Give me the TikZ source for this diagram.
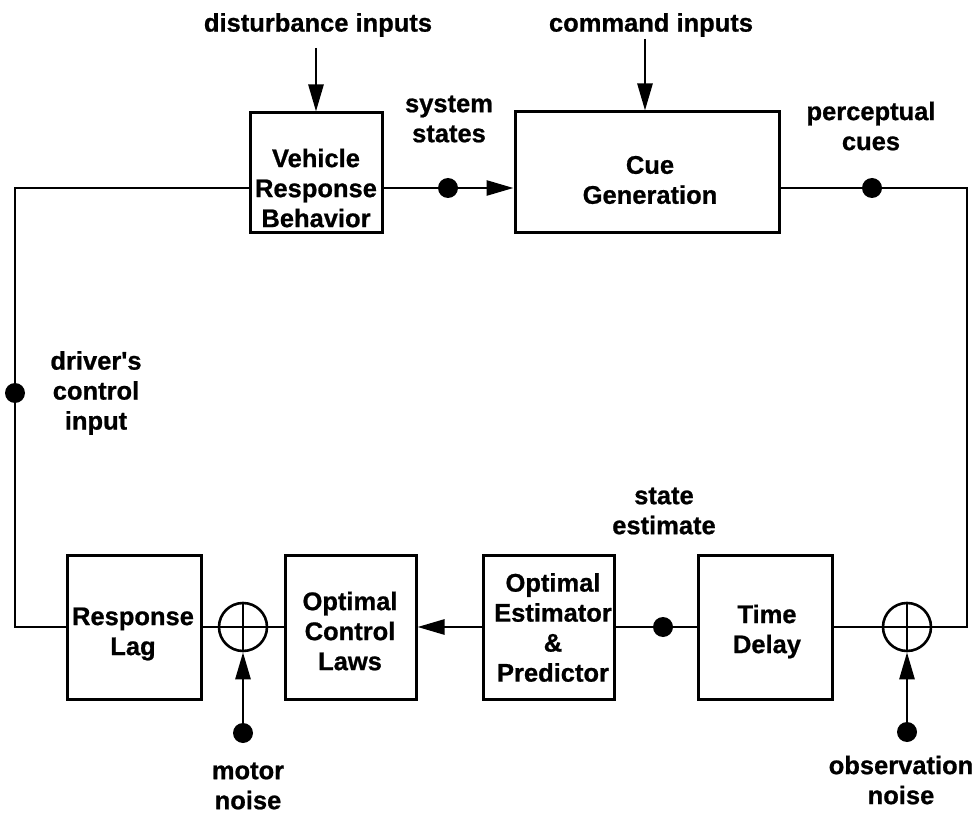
\documentclass[tikz,border=0pt]{standalone}
\usepackage{fontspec}
\newfontfamily\diagfont{Liberation Sans}[BoldFeatures={FakeBold=0.8}]
\usetikzlibrary{arrows.meta}
\begin{document}
\begin{tikzpicture}[x=1pt,y=-1pt,
  blk/.style={draw, line width=3pt, inner sep=0pt},
  lbl/.style={font=\diagfont\bfseries\fontsize{25.5}{30}\selectfont, align=center, inner sep=0pt},
  ln/.style={line width=2.7pt},
  arr/.style={-{Triangle[length=27pt,width=15pt]}},
  dotnode/.style={circle, fill=black, minimum size=20pt, inner sep=0pt},
  sumj/.style={draw, circle, line width=2.6pt, minimum size=48pt, inner sep=0pt,
    path picture={\draw[line width=2.4pt]
      (path picture bounding box.north) -- (path picture bounding box.south)
      (path picture bounding box.west) -- (path picture bounding box.east);}}]
\useasboundingbox (0,0) rectangle (978,813);

% blocks
\node[blk, minimum width=132pt, minimum height=120pt] (vrb)  at (316,173) {};
\node[blk, minimum width=264pt, minimum height=121pt] (cue)  at (647,172.5) {};
\node[blk, minimum width=134pt, minimum height=144pt] (rlag) at (134,627) {};
\node[blk, minimum width=131pt, minimum height=144pt] (ctl)  at (350.5,627) {};
\node[blk, minimum width=131pt, minimum height=144pt] (est)  at (548.5,627) {};
\node[blk, minimum width=134pt, minimum height=144pt] (tdel) at (765,627) {};

% block texts
\node[lbl] (vrbt)  at (316,188)   {Vehicle\\Response\\Behavior};
\node[lbl] (cuet)  at (650,180)   {Cue\\Generation};
\node[lbl] (rlagt) at (133,634)   {Response\\Lag};
\node[lbl] (ctlt)  at (350,631)   {Optimal\\Control\\Laws};
\node[lbl] (estt)  at (553,627.5) {Optimal\\Estimator\\\&\\Predictor};
\node[lbl] (tdelt) at (767,631.5) {Time\\Delay};

% summing junctions
\node[sumj] (sumL) at (243,627) {};
\node[sumj] (sumR) at (907,627) {};

% loop corners and input starts
\coordinate (cTL) at (15,188);
\coordinate (cBL) at (15,627);
\coordinate (cTR) at (967,188);
\coordinate (cBR) at (967,627);
\coordinate (distTop) at (316,48);
\coordinate (cmdTop) at (645,39);

% connectors
\draw[ln] (rlag.west) -- (cBL) -- (cTL) -- (vrb.west |- cTL);
\draw[ln,arr] (vrb.east |- cTL) -- (cue.west |- cTL);
\draw[ln] (cue.east |- cTR) -- (cTR) -- (cBR) -- (sumR.east);
\draw[ln] (sumR.west) -- (tdel.east);
\draw[ln] (tdel.west) -- (est.east);
\draw[ln,arr] (est.west) -- (ctl.east);
\draw[ln] (ctl.west) -- (sumL.east);
\draw[ln] (sumL.west) -- (rlag.east);
\draw[ln,arr] (distTop) -- (vrb.north);
\draw[ln,arr] (cmdTop) -- (cmdTop |- cue.north);

% signal dots
\node[dotnode] (ddrv) at (15,393) {};
\node[dotnode] (dsys) at (448,188) {};
\node[dotnode] (dper) at (872,188) {};
\node[dotnode] (dest) at (663,627) {};
\node[dotnode] (dmot) at (243,733) {};
\node[dotnode] (dobs) at (907,732) {};

\draw[ln,arr] (dmot) -- (sumL.south);
\draw[ln,arr] (dobs) -- (sumR.south);

% signal labels
\node[lbl] (tdist) at (318,25)  {disturbance inputs};
\node[lbl] (tcmd)  at (651,25)  {command inputs};
\node[lbl] (tsys)  at (449,119) {system\\states};
\node[lbl] (tper)  at (871,126) {perceptual\\cues};
\node[lbl] (tdrv)  at (96,393)  {driver's\\control\\input};
\node[lbl] (test)  at (664,511) {state\\estimate};
\node[lbl] (tmot)  at (248,786) {motor\\noise};
\node[lbl] (tobs)  at (901,780) {observation\\noise};
\end{tikzpicture}
\end{document}
